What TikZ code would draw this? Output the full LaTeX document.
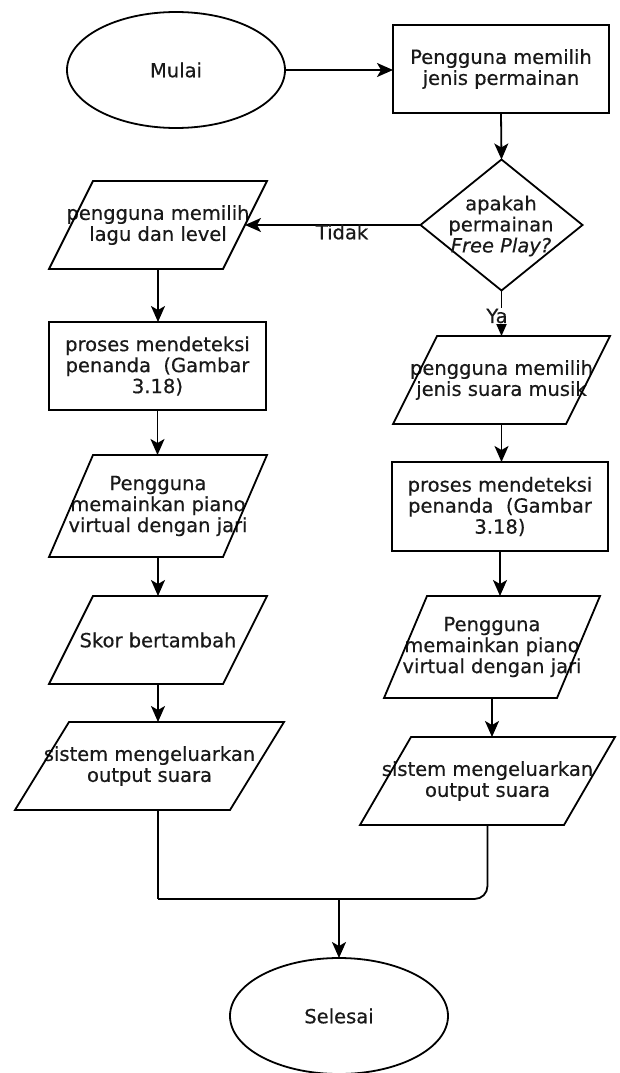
\documentclass[tikz,border=0pt]{standalone}
\usepackage{fontspec}
\setmainfont{DejaVu Sans}[FakeBold=0.5]
\usetikzlibrary{shapes.geometric,arrows.meta,calc}
\newcommand{\drawpara}[2]{\draw[ln] ($(#1.north west)+(#2,0)$) -- (#1.north east) -- ($(#1.south east)-(#2,0)$) -- (#1.south west) -- cycle;}
\begin{document}
\begin{tikzpicture}[x=1pt,y=-1pt,
  every node/.style={font=\fontsize{19.5}{21}\selectfont, text=black!90, align=center},
  ln/.style={draw=black, line width=1.8pt},
  arr/.style={ln, -{Stealth[length=16pt,width=14pt,inset=4pt]}},
  ell/.style={ln, ellipse, minimum width=218pt, minimum height=116pt, inner sep=0pt, outer sep=0pt},
  boxs/.style 2 args={ln, rectangle, minimum width=#1, minimum height=#2, inner sep=0pt, outer sep=0pt},
  ptxt/.style 2 args={rectangle, minimum width=#1, minimum height=#2, inner sep=0pt, outer sep=0pt},
  dia/.style={ln, diamond, minimum width=162pt, minimum height=131pt, inner sep=0pt, outer sep=0pt},
  lbl/.style={inner sep=1pt}
]
\useasboundingbox (0,0) rectangle (619,1073);

% nodes
\node[ell] (mulai) at (176,70) {Mulai};
\node[boxs={216pt}{88pt}] (r1) at (501,69) {Pengguna memilih\\jenis permainan};
\node[dia] (d) at (501.5,225) {};
\node (dt) at (501,226) {apakah\\permainan\\\textit{Free Play?}};
\node[ptxt={218pt}{88pt}] (l1) at (158,225) {pengguna memilih\\lagu dan level};
\node[boxs={217pt}{88pt}] (l2) at (157.5,366) {proses mendeteksi\\penanda~ (Gambar\\3.18)};
\node[ptxt={218pt}{102pt}] (l3) at (158,506) {Pengguna\\memainkan piano\\virtual dengan jari};
\node[ptxt={218pt}{88pt}] (l4) at (158,640) {Skor bertambah};
\node[ptxt={269pt}{88pt}] (l5) at (149.5,766) {sistem mengeluarkan\\output suara};
\node[ptxt={217pt}{88pt}] (r2) at (501.5,380) {pengguna memilih\\jenis suara musik};
\node[boxs={216pt}{89pt}] (r3) at (500,506.5) {proses mendeteksi\\penanda~ (Gambar\\3.18)};
\node[ptxt={216pt}{102pt}] (r4) at (492,647) {Pengguna\\memainkan piano\\virtual dengan jari};
\node[ptxt={255pt}{88pt}] (r5) at (487.5,781) {sistem mengeluarkan\\output suara};
\node[ell] (selesai) at (339,1016) {Selesai};

% parallelogram outlines
\drawpara{l1}{44}
\drawpara{l3}{44}
\drawpara{l4}{44}
\drawpara{l5}{54}
\drawpara{r2}{44}
\drawpara{r4}{43}
\drawpara{r5}{51}

% connectors
\draw[arr] (mulai.east) -- (mulai.east -| r1.west);
\draw[arr] (r1.south) -- (d.north);
\coordinate (l1in) at ($(l1.east)+(-22,0)$);
\draw[arr] (d.west) -- (l1in);
\node[lbl] (tidak) at (342,232) {Tidak};
\draw[arr] (d.south) -- (d.south |- r2.north);
\node[lbl, fill=white] (ya) at (497,316) {Ya};
\draw[arr] (r2.south) -- (r2.south |- r3.north);
\draw[arr] (r3.south) -- (r3.south |- r4.north);
\draw[arr] (r4.south) -- (r4.south |- r5.north);

\draw[arr] (l1.south) -- (l1.south |- l2.north);
\draw[arr] (l2.south) -- (l2.south |- l3.north);
\draw[arr] (l3.south) -- (l3.south |- l4.north);
\draw[arr] (l4.south) -- (l4.south |- l5.north);

\coordinate (j1) at (158,899);
\coordinate (j2) at (487.5,899);
\draw[ln] (l4.south |- l5.south) -- (j1);
\draw[ln, rounded corners=13pt] (j1) -- (j2) -- (r5.south);
\draw[arr] (selesai.north |- j1) -- (selesai.north);
\end{tikzpicture}
\end{document}
